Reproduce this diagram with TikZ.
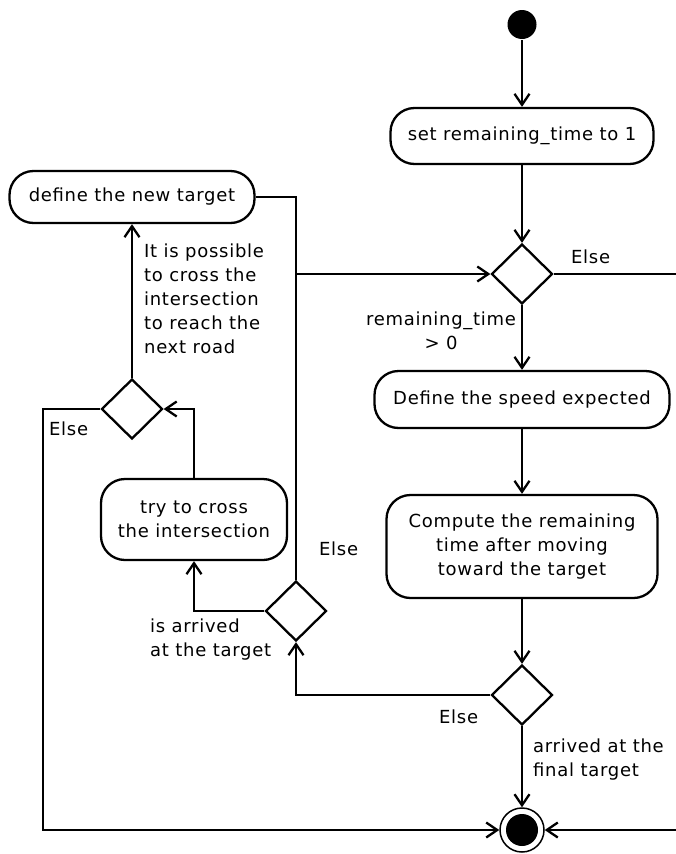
\documentclass[tikz,border=0pt]{standalone}
\usepackage{fontspec}
\setmainfont{DejaVu Sans}[LetterSpace=4]
\usetikzlibrary{arrows.meta,shapes.geometric}

\def \midx {522}
\def \edgex {676}
\def \leftx {43}
\tikzstyle{start}=[circle, fill=black, minimum size=29pt, inner sep=0pt]
\tikzstyle{stop}=[circle, draw, line width=1.5pt, minimum size=44pt, inner sep=0pt,
  path picture={\fill (path picture bounding box.center) circle (16pt);}]
\tikzstyle{action}=[draw, rounded corners=24pt, align=center, inner sep=0pt]
\tikzstyle{choice}=[diamond, draw, minimum width=61pt, minimum height=60pt, inner sep=0pt]
\tikzstyle{annot}=[inner sep=0pt]

\begin{document}
\begin{tikzpicture}[x=1pt, y=-1pt, line width=2.3pt, >={Straight Barb[length=11pt,width=15pt]},
  font=\fontsize{18}{24}\selectfont]

\useasboundingbox (0,0) rectangle (676,854);

\node[start] (S) at (\midx, 24.5) {};
\node[action, minimum width=263pt, minimum height=56pt] (I) at (\midx, 136) {set remaining\_time to 1};
\node[choice] (Q1) at (\midx, 274) {};
\node[action, minimum width=295pt, minimum height=57pt] (A1) at (\midx, 399.5) {Define the speed expected};
\node[action, minimum width=271pt, minimum height=103pt] (A2) at (\midx, 546.5) {Compute the remaining\\time after moving\\toward the target};
\node[choice] (Q2) at (\midx, 695) {};
\node[stop] (E) at (\midx, 830) {};

\node[choice] (Q3) at (296, 611) {};
\node[action, minimum width=186pt, minimum height=81pt] (A3) at (194, 519.5) {try to cross\\the intersection};
\node[choice] (Q4) at (132, 409) {};
\node[action, minimum width=245pt, minimum height=52pt] (A4) at (132, 197) {define the new target};

\coordinate (R1) at (\edgex, 274);
\coordinate (R2) at (\edgex, 830);
\coordinate (L) at (\leftx, 830);
\coordinate (J) at (Q3.north |- Q1.west);

\draw[->] (S) -- (I);
\draw[->] (I) -- (Q1);
\draw[->] (Q1) -- (A1);
\draw[->] (A1) -- (A2);
\draw[->] (A2) -- (Q2);
\draw[->] (Q2) -- (E);
\draw (Q1.east) -- (R1);
\draw[->] (R2) -- (E);
\draw[->] (Q2.west) -| (Q3.south);
\draw[->] (Q3.west) -| (A3.south);
\draw[->] (A3.north) |- (Q4.east);
\draw[->] (Q4) -- (A4);
\draw[->] (Q4.west) -| (L) -- (E);
\draw (A4.east) -| (J);
\draw[->] (Q3.north) |- (Q1.west);

\node[annot, anchor=base west] (l1) at (570, 263) {Else};
\node[annot, anchor=north, align=center] (l2) at (441, 311) {remaining\_time\\> 0};
\node[annot, anchor=north west, align=left] (l3) at (143, 243) {It is possible\\to cross the\\intersection\\to reach the\\next road};
\node[annot, anchor=base west] (l4) at (48, 435) {Else};
\node[annot, anchor=base west] (l5) at (318, 555) {Else};
\node[annot, anchor=north west, align=left] (l6) at (149, 618) {is arrived\\at the target};
\node[annot, anchor=base west] (l7) at (438, 723) {Else};
\node[annot, anchor=north west, align=left] (l8) at (532, 738) {arrived at the\\final target};

\end{tikzpicture}
\end{document}
